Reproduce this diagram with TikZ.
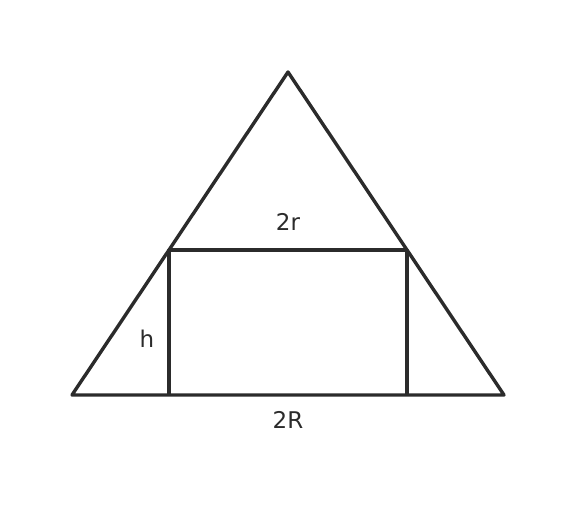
\documentclass[tikz,border=0pt]{standalone}
\usepackage{fontspec}
\setmainfont{DejaVu Sans}
\usetikzlibrary{calc}
\definecolor{ink}{RGB}{43,43,43}
\tikzstyle{edge} = [draw=ink, line width=3.4pt, line join=round]
\tikzstyle{lbl} = [text=ink, font=\fontsize{23}{27}\selectfont, inner sep=0pt]

\begin{document}
\begin{tikzpicture}[x=1pt, y=-1pt]
    \useasboundingbox (0,0) rectangle (576,508);

    % triangle
    \coordinate (apex) at (288,72);
    \coordinate (bl) at (72,395);
    \coordinate (br) at (504,395);

    % inscribed rectangle
    \coordinate (rtl) at ($(bl)!0.449!(apex)$);
    \coordinate (rtr) at ($(br)!0.449!(apex)$);
    \coordinate (rbl) at (rtl |- bl);
    \coordinate (rbr) at (rtr |- br);

    \draw[edge] (bl) -- (apex) -- (br) -- cycle;
    \draw[edge] (rbl) -- (rtl) -- (rtr) -- (rbr);

    \node[lbl] (r) at (288,222) {2r};
    \node[lbl] (h) at (147,339) {h};
    \node[lbl] (R) at (288,420) {2R};
  \end{tikzpicture}
\end{document}
